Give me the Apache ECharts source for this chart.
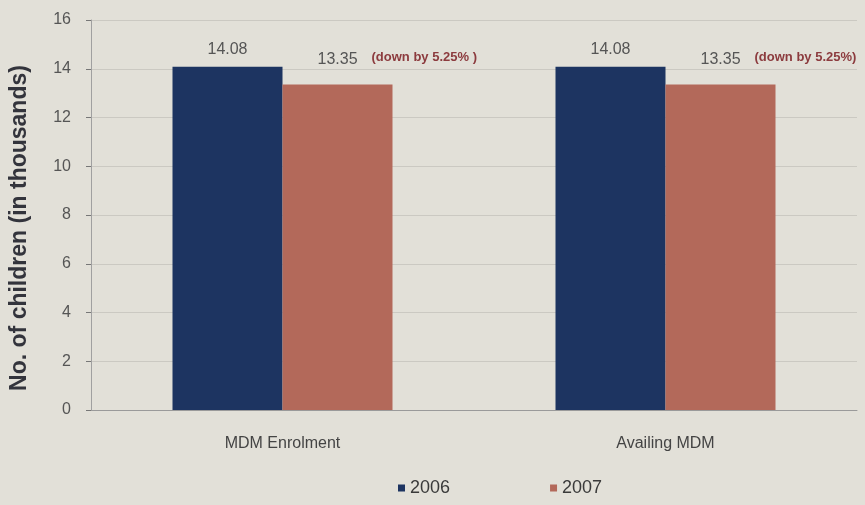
<!DOCTYPE html>
<html>
<head>
<meta charset="utf-8">
<script src="https://cdn.jsdelivr.net/npm/echarts@6/dist/echarts.min.js"></script>
<style>
  html, body { margin: 0; padding: 0; background: #e2e0d8; }
  #chart { width: 865px; height: 505px; }
</style>
</head>
<body>
<div id="chart"></div>
<script>
var categories = ['MDM Enrolment', 'Availing MDM'];
var years = ['2006', '2007'];
var values2006 = [14.08, 14.08];
var values2007 = [13.35, 13.35];
var notes2007 = ['(down by 5.25% )', '(down by 5.25%)'];
var yTicks = [0, 2, 4, 6, 8, 10, 12, 14, 16];

var font = 'Liberation Sans Narrow, Liberation Sans, sans-serif';
var chart = echarts.init(document.getElementById('chart'));

var option = {
  backgroundColor: '#e2e0d8',
  animation: false,
  grid: { left: 90, right: 8, top: 20, bottom: 95 },
  legend: {
    data: years,
    bottom: 3,
    left: 393,
    itemWidth: 7,
    itemHeight: 7,
    itemGap: 100,
    icon: 'rect',
    textStyle: { color: '#3a3a3a', fontSize: 18, fontFamily: font }
  },
  xAxis: {
    type: 'category',
    data: categories,
    axisLine: { show: true, lineStyle: { color: '#9a9a9a' } },
    axisTick: { show: false },
    axisLabel: { color: '#444', fontSize: 16, margin: 26, fontFamily: font }
  },
  yAxis: {
    type: 'value',
    min: yTicks[0],
    max: yTicks[yTicks.length - 1],
    interval: 2,
    name: 'No. of children (in thousands)',
    nameLocation: 'middle',
    nameGap: 60,
    nameTextStyle: {
      color: '#33343c', fontSize: 23, fontWeight: 'bold',
      fontFamily: 'Liberation Sans, sans-serif', padding: [0, 26, 0, 0]
    },
    axisLine: { show: true, lineStyle: { color: '#a0a0a0' } },
    axisTick: { show: true, inside: false, length: 5, lineStyle: { color: '#777' } },
    axisLabel: { color: '#555', fontSize: 16, margin: 20, fontFamily: font },
    splitLine: { show: true, lineStyle: { color: '#cbc9c2' } }
  },
  series: [
    {
      name: '2006',
      type: 'bar',
      data: values2006,
      barWidth: 110,
      barGap: '0%',
      itemStyle: { color: '#1d3461' },
      label: {
        show: true,
        position: 'top',
        distance: 9,
        color: '#555',
        fontSize: 16,
        fontFamily: font,
        formatter: function (p) { return p.value.toFixed(2); }
      }
    },
    {
      name: '2007',
      type: 'bar',
      data: values2007,
      barWidth: 110,
      barGap: '0%',
      itemStyle: { color: '#b3695a' },
      label: {
        show: true,
        position: 'top',
        distance: 16,
        align: 'left',
        offset: [-20, 0],
        formatter: function (p) {
          return '{v|' + p.value.toFixed(2) + '}{n|' + notes2007[p.dataIndex] + '}';
        },
        rich: {
          v: { color: '#555', fontSize: 16, fontFamily: font },
          n: { color: '#8c3b3e', fontSize: 13, fontWeight: 'bold', fontFamily: font, padding: [0, 0, 5, 14] }
        }
      }
    }
  ]
};

chart.setOption(option);
</script>
</body>
</html>
